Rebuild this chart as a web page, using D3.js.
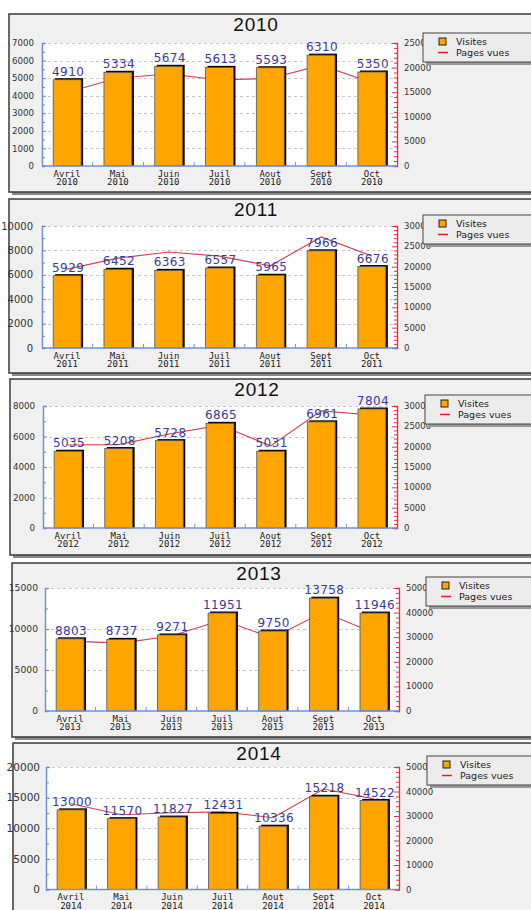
<!DOCTYPE html>
<html>
<head>
<meta charset="utf-8">
<script src="https://cdn.jsdelivr.net/npm/d3@7"></script>
<style>
body{margin:0;background:#fff;}
svg{display:block;}
</style>
</head>
<body>
<script>
// data
var years = ["2010","2011","2012","2013","2014"];
var months = ["Avril","Mai","Juin","Juil","Aout","Sept","Oct"];

var visites2010 = [4910,5334,5674,5613,5593,6310,5350];
var visites2011 = [5929,6452,6363,6557,5965,7966,6676];
var visites2012 = [5035,5208,5728,6865,5031,6961,7804];
var visites2013 = [8803,8737,9271,11951,9750,13758,11946];
var visites2014 = [13000,11570,11827,12431,10336,15218,14522];

var pages2010 = [15000,17900,18700,17500,17800,20500,16900];
var pages2011 = [19400,22100,23600,22600,20200,27300,22600];
var pages2012 = [20400,20500,23100,25300,20200,28800,27800];
var pages2013 = [28400,27600,30500,37000,29700,40200,31700];
var pages2014 = [35000,30500,31300,31700,29300,41000,37000];

var leftMax = [7000,10000,8000,15000,20000];
var leftStep = [1000,2000,2000,5000,5000];
var rightMax = [25000,30000,30000,50000,50000];
var rightStep = [5000,5000,5000,10000,10000];

var visites = [visites2010,visites2011,visites2012,visites2013,visites2014];
var pages = [pages2010,pages2011,pages2012,pages2013,pages2014];

// layout of each panel (frame + plot area)
var layout = [
  {fx:9, fy:14, fb:192, l:42, r:397, t:43, b:166, lx:423, ly:33, tx:256, lf:8.7, lg:8},
  {fx:9, fy:199, fb:373, l:42, r:397, t:226, b:348, lx:423, ly:215, tx:256, lf:10, lg:9},
  {fx:10, fy:379, fb:555, l:43, r:397, t:406, b:528, lx:425, ly:395, tx:257, lf:8.7, lg:8},
  {fx:12, fy:563, fb:737, l:45, r:399, t:588, b:711, lx:426, ly:577, tx:259, lf:9.2, lg:7},
  {fx:13, fy:743, fb:930, l:46, r:399, t:767, b:889.5, lx:427, ly:756, tx:259, lf:10.5, lg:6}
];

var width = 531, height = 910;
var svg = d3.select("body").append("svg").attr("width",width).attr("height",height);

years.forEach(function(yr,k){
  var L = layout[k];
  var g = svg.append("g").attr("class","panel"+k);

  // frame with shadow
  g.append("rect").attr("x",L.fx+3).attr("y",L.fy+3).attr("width",600).attr("height",L.fb-L.fy)
    .attr("fill","#8a8a8a");
  g.append("rect").attr("x",L.fx).attr("y",L.fy).attr("width",600).attr("height",L.fb-L.fy)
    .attr("fill","#f0f0f0").attr("stroke","#3a3a3a").attr("stroke-width",1.5);

  // title
  g.append("text").attr("x",L.tx).attr("y",L.fy+17).attr("text-anchor","middle")
    .attr("font-family","Liberation Sans, Arial").attr("font-size",19).attr("letter-spacing",0.8)
    .attr("fill","#111").text(yr);

  var x = d3.scaleBand().domain(months).range([L.l,L.r]).paddingInner(0.45).paddingOuter(0.22);
  var xb = d3.scaleBand().domain(months).range([L.l,L.r]);
  var yl = d3.scaleLinear().domain([0,leftMax[k]]).range([L.b,L.t]);
  var yr2 = d3.scaleLinear().domain([0,rightMax[k]]).range([L.b,L.t]);

  // plot background
  g.append("rect").attr("x",L.l).attr("y",L.t).attr("width",L.r-L.l).attr("height",L.b-L.t).attr("fill","#fff");

  // grid
  var majors = d3.range(leftStep[k], leftMax[k]+1, leftStep[k]);
  g.selectAll("line.grid").data(majors).enter().append("line").attr("class","grid")
    .attr("x1",L.l).attr("x2",L.r).attr("y1",function(d){return Math.round(yl(d))+0.5;})
    .attr("y2",function(d){return Math.round(yl(d))+0.5;})
    .attr("stroke","#c8c8c8").attr("stroke-dasharray","3,3");

  // left axis
  var la = g.append("g").attr("transform","translate("+L.l+",0)")
    .call(d3.axisRight(yl).tickValues(d3.range(0,leftMax[k]+1,leftStep[k]/2)).tickFormat("").tickSizeOuter(0)
      .tickSize(3));
  la.selectAll("line").attr("stroke","#6a8ad0").attr("x2",function(d){return d%leftStep[k]===0?4:3;});
  la.select(".domain").attr("stroke","#7090d8").attr("stroke-width",1.5);
  g.selectAll("text.ly").data(d3.range(0,leftMax[k]+1,leftStep[k])).enter().append("text").attr("class","ly")
    .attr("x",L.l-L.lg).attr("y",function(d){return yl(d)+L.lf*0.36;}).attr("text-anchor","end")
    .attr("font-family","DejaVu Sans").attr("font-size",L.lf).attr("fill","#333").text(function(d){return d;});

  // right axis
  var ra = g.append("g").attr("transform","translate("+L.r+",0)")
    .call(d3.axisLeft(yr2).ticks(rightMax[k]/(rightStep[k]/5)).tickFormat("").tickSizeOuter(0).tickSize(3));
  ra.selectAll("line").attr("stroke","#e03040").attr("x2",function(d){return d%rightStep[k]===0?-5:-3;});
  ra.select(".domain").attr("stroke","#e03040").attr("stroke-width",1.3);
  g.selectAll("text.ry").data(d3.range(0,rightMax[k]+1,rightStep[k])).enter().append("text").attr("class","ry")
    .attr("x",L.r+7).attr("y",function(d){return yr2(d)+3;})
    .attr("font-family","DejaVu Sans").attr("font-size",8.5).attr("fill","#333").text(function(d){return d;});

  // pages vues line (behind bars)
  var line = d3.line().x(function(d,i){return x(months[i])+x.bandwidth()/2;}).y(function(d){return yr2(d);});
  g.append("path").datum(pages[k]).attr("d",line).attr("fill","none").attr("stroke","#d04050").attr("stroke-width",1.1);

  // bars
  var bars = g.selectAll("g.bar").data(visites[k]).enter().append("g").attr("class","bar");
  bars.append("rect").attr("x",function(d,i){return x(months[i])+2;}).attr("y",function(d){return yl(d)-1.5;})
    .attr("width",x.bandwidth()).attr("height",function(d){return L.b-yl(d)+1.5;}).attr("fill","#000");
  bars.append("rect").attr("x",function(d,i){return x(months[i]);}).attr("y",function(d){return yl(d);})
    .attr("width",x.bandwidth()).attr("height",function(d){return L.b-yl(d);})
    .attr("fill","#ffa500").attr("stroke","#555").attr("stroke-width",0.8);
  bars.append("text").attr("x",function(d,i){return x(months[i])+x.bandwidth()/2+1;})
    .attr("y",function(d){return yl(d)-4;}).attr("text-anchor","middle")
    .attr("font-family","DejaVu Sans").attr("font-size",12).attr("fill","#3a3a9a").attr("letter-spacing",0.4)
    .text(function(d){return d;});

  // bottom axis
  g.append("line").attr("x1",L.l).attr("x2",L.r).attr("y1",L.b).attr("y2",L.b).attr("stroke","#7090d8").attr("stroke-width",1.5);
  g.selectAll("line.xt").data(months.slice(1)).enter().append("line").attr("class","xt")
    .attr("x1",function(d){return xb(d);}).attr("x2",function(d){return xb(d);})
    .attr("y1",L.b).attr("y2",L.b-4).attr("stroke","#7090d8");
  var xl = g.selectAll("text.xl").data(months).enter().append("text").attr("class","xl")
    .attr("text-anchor","middle").attr("font-family","DejaVu Sans Mono").attr("font-size",9).attr("fill","#222");
  xl.append("tspan").attr("x",function(d){return x(d)+x.bandwidth()/2;}).attr("y",L.b+10.5).text(function(d){return d;});
  xl.append("tspan").attr("x",function(d){return x(d)+x.bandwidth()/2;}).attr("y",L.b+19).text(yr);

  // legend
  g.append("rect").attr("x",L.lx+3).attr("y",L.ly+3).attr("width",200).attr("height",29).attr("fill","#999");
  g.append("rect").attr("x",L.lx).attr("y",L.ly).attr("width",200).attr("height",29)
    .attr("fill","#ececec").attr("stroke","#444").attr("stroke-width",1);
  g.append("rect").attr("x",L.lx+16).attr("y",L.ly+5).attr("width",7).attr("height",7)
    .attr("fill","#ffa500").attr("stroke","#222").attr("stroke-width",1);
  g.append("line").attr("x1",L.lx+15).attr("x2",L.lx+25).attr("y1",L.ly+19.5).attr("y2",L.ly+19.5)
    .attr("stroke","#e02020").attr("stroke-width",1.5);
  g.append("text").attr("x",L.lx+33).attr("y",L.ly+11.5).attr("font-family","DejaVu Sans").attr("font-size",9.5)
    .attr("fill","#222").text("Visites");
  g.append("text").attr("x",L.lx+33).attr("y",L.ly+22.5).attr("font-family","DejaVu Sans").attr("font-size",9.5)
    .attr("fill","#222").text("Pages vues");
});
</script>
</body>
</html>
